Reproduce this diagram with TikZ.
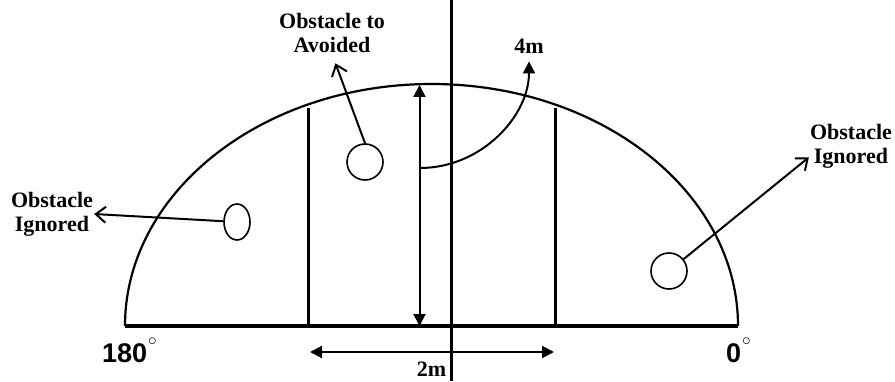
\documentclass[tikz,border=0pt]{standalone}
\usepackage{fontspec}
\setmainfont{Liberation Serif}
\newfontfamily\degfont{Liberation Sans}
\usetikzlibrary{arrows.meta, shapes.geometric}

\newcommand{\degring}{\kern1pt\raisebox{16.5pt}{\fontsize{17}{17}\selectfont$\circ$}}

\begin{document}
\begin{tikzpicture}[
    x=1pt, y=1pt,
    every node/.style={font=\bfseries\fontsize{22}{24}\selectfont},
    lbl/.style={align=center, inner sep=1pt},
    ang/.style={font=\degfont\bfseries\fontsize{27}{30}\selectfont, inner sep=0pt,
                anchor=base west},
    obs/.style={circle, draw, line width=1.6pt, minimum size=36pt, inner sep=0pt},
    oval/.style={ellipse, draw, line width=1.6pt, minimum width=26pt,
                 minimum height=36pt, inner sep=0pt},
    bar/.style={line width=3pt},
    dbl/.style={{Triangle[length=12pt,width=12pt]}-{Triangle[length=12pt,width=12pt]},
                line width=2pt},
    arr/.style={-{Triangle[length=12pt,width=12pt]}, line width=2pt},
    barb/.style={-{Straight Barb[length=10pt,width=16pt]}, line width=2pt}
]
    \useasboundingbox (0,0) rectangle (895,381);

    \coordinate (west) at (125,55);
    \coordinate (east) at (738,55);
    \coordinate (top)  at (451,381);
    \coordinate (bot)  at (451,0);
    \coordinate (lb)   at (308,55);
    \coordinate (lt)   at (308,273);
    \coordinate (rb)   at (555,55);
    \coordinate (rt)   at (555,273);
    \coordinate (vb)   at (419.5,55);
    \coordinate (vt)   at (419.5,296);
    \coordinate (hl)   at (310,29);
    \coordinate (hr)   at (554,29);
    \coordinate (rad)  at (420,213);

    \draw[line width=2.2pt] (east) arc[start angle=0, end angle=180,
                                       x radius=306.5, y radius=242];
    \draw[line width=3.2pt] (west) -- (east);
    \draw[bar] (top) -- (bot);
    \draw[bar] (lb) -- (lt);
    \draw[bar] (rb) -- (rt);

    \node[obs]  (obsM) at (365,219) {};
    \node[oval] (obsL) at (237,159) {};
    \node[obs]  (obsR) at (669,110) {};

    \node[lbl] (lblL)  at (52,167)   {Obstacle\\Ignored};
    \node[lbl] (lblM)  at (332,348)  {Obstacle to\\Avoided};
    \node[lbl] (lblR)  at (851,235)  {Obstacle\\Ignored};
    \node[lbl] (lbl4m) at (529,335)  {4m};
    \node[lbl] (lbl2m) at (431.5,12) {2m};
    \node[ang] (deg180) at (102,19) {180\degring};
    \node[ang] (deg0)   at (726,19) {0\degring};

    \draw[dbl] (vb) -- (vt);
    \draw[dbl] (hl) -- (hr);
    \draw[arr, shorten >=7pt] (rad) to[out=0, in=-90] (lbl4m.south);
    \draw[barb] (obsL) -- (lblL.east);
    \draw[barb, shorten >=10pt] (obsM.north) -- (lblM.south);
    \draw[barb] (obsR) -- (lblR.195);
\end{tikzpicture}
\end{document}
